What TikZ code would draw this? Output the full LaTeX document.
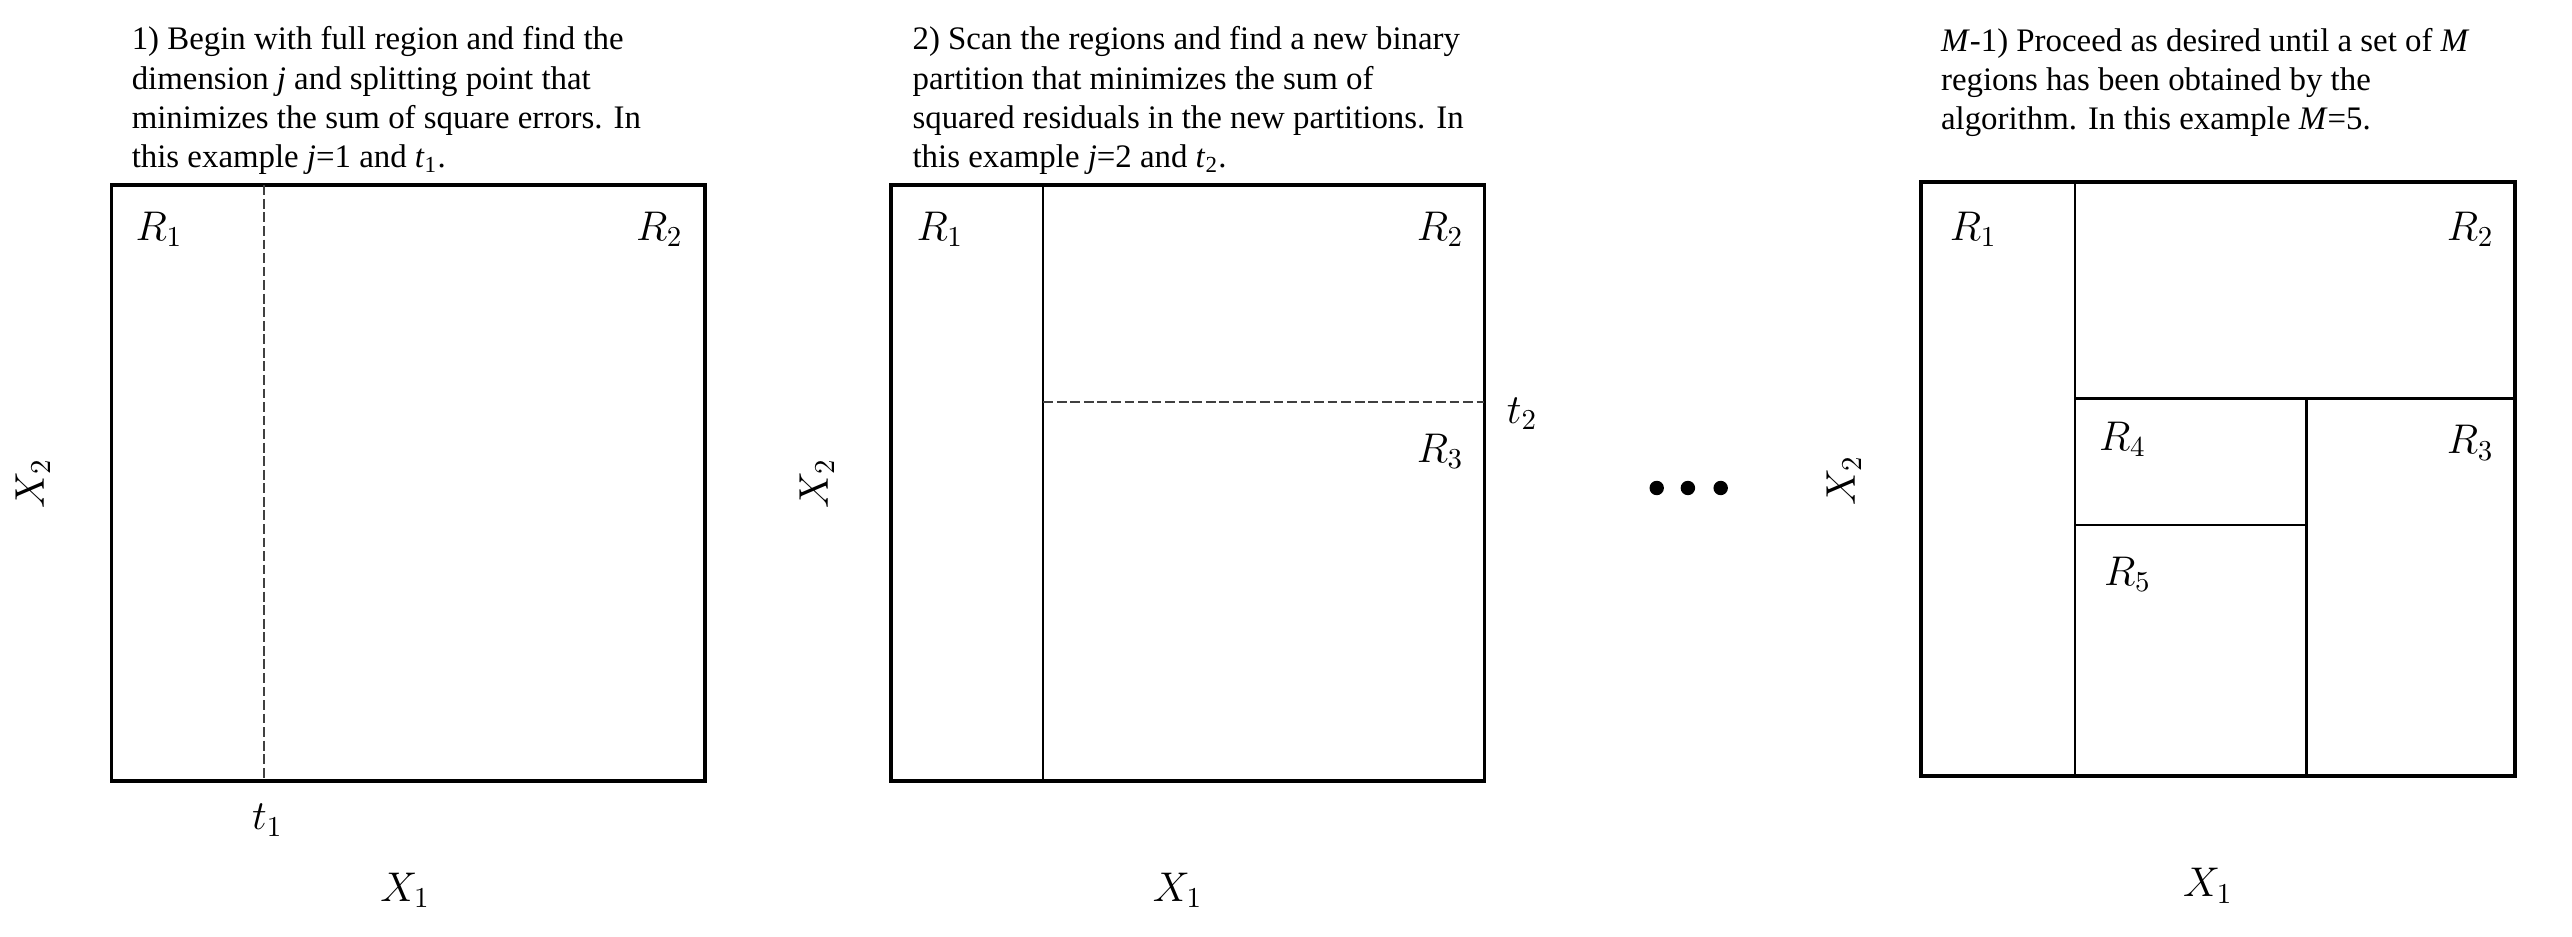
\documentclass[tikz,border=0pt]{standalone}
\usepackage{fontspec}
\setmainfont{Liberation Serif}
\usepackage{tikz}

\begin{document}
\begin{tikzpicture}[x=0.02cm,y=-0.02cm,
        frame/.style={line width=1.35pt},
        split/.style={line width=0.85pt},
        cut/.style={line width=0.75pt,black!75,dash pattern=on 3.4pt off 1.3pt},
        lbl/.style={font=\fontsize{14}{14}\selectfont},
        note/.style={anchor=north west,align=left,inner sep=0pt,font=\fontsize{11.4}{13.6}\selectfont}]
        \useasboundingbox (0,0) rectangle (1568,571);
        % step 1
        \node[note] (txta) at (80,16) {1) Begin with full region and find the\\dimension \textit{j} and splitting point that\\minimizes the sum of square errors. In\\this example \textit{j}=1 and \textit{t}\textsubscript{1}.};
        \draw[frame] (68,113) rectangle (430,476);
        \draw[cut] (161,113) -- (161,476);
        \node[lbl] (ra1) at (97,140) {$R_1$};
        \node[lbl] (ra2) at (402,140) {$R_2$};
        \node[lbl] (ta1) at (163,500) {$t_1$};
        \node[lbl] (xa1) at (247,543) {$X_1$};
        \node[lbl,rotate=90] (xa2) at (20,295) {$X_2$};
        % step 2
        \node[note] (txtb) at (556,16) {2) Scan the regions and find a new binary\\partition that minimizes the sum of\\squared residuals in the new partitions. In\\this example \textit{j}=2 and \textit{t}\textsubscript{2}.};
        \draw[frame] (543,113) rectangle (905,476);
        \draw[split] (636,113) -- (636,476);
        \draw[cut] (636,245) -- (905,245);
        \node[lbl] (rb1) at (573,140) {$R_1$};
        \node[lbl] (rb2) at (878,140) {$R_2$};
        \node[lbl] (rb3) at (878,275) {$R_3$};
        \node[lbl] (tb2) at (928,252) {$t_2$};
        \node[lbl] (xb1) at (718,543) {$X_1$};
        \node[lbl,rotate=90] (xb2) at (498,295) {$X_2$};
        % dots
        \foreach \i in {1010,1029,1049}
            \fill (\i,297.5) circle (4.4);
        % step M-1
        \node[note] (txtc) at (1183,17) {\textit{M}-1) Proceed as desired until a set of \textit{M}\\regions has been obtained by the\\algorithm. In this example \textit{M}=5.};
        \draw[frame] (1171,111) rectangle (1533,473);
        \draw[split] (1265,111) -- (1265,473);
        \draw[split] (1265,243) -- (1533,243);
        \draw[split] (1406,243) -- (1406,473);
        \draw[split] (1265,320) -- (1406,320);
        \node[lbl] (rc1) at (1203,140) {$R_1$};
        \node[lbl] (rc2) at (1506,140) {$R_2$};
        \node[lbl] (rc3) at (1506,270) {$R_3$};
        \node[lbl] (rc4) at (1294,268) {$R_4$};
        \node[lbl] (rc5) at (1297,350) {$R_5$};
        \node[lbl] (xc1) at (1346,540) {$X_1$};
        \node[lbl,rotate=90] (xc2) at (1124,293) {$X_2$};
\end{tikzpicture}
\end{document}
